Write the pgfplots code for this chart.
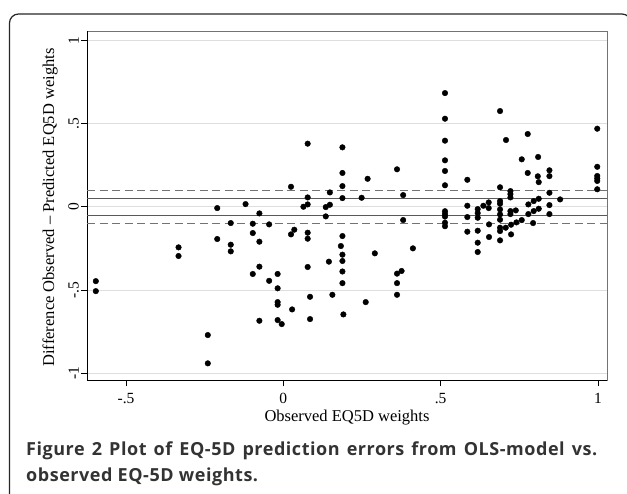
\documentclass[border=0pt]{standalone}
\usepackage{fontspec}
\setmainfont{Liberation Serif}
\newfontfamily\capfont{Open Sans}[LetterSpace=3]
\usepackage{pgfplots}
\pgfplotsset{compat=1.18}
\definecolor{capgray}{HTML}{333333}

\pgfplotstableread{
x y
-0.596 -0.447
-0.596 -0.507
-0.333 -0.244
-0.333 -0.296
-0.240 -0.771
-0.240 -0.941
0.0775 0.379
0.0245 0.120
0.148 0.086
0.0775 0.056
0.064 0.000
0.0775 0.014
0.135 -0.002
0.148 0.012
0.135 -0.058
-0.210 -0.008
-0.120 0.016
-0.076 -0.040
-0.167 -0.098
-0.097 -0.102
-0.045 -0.106
-0.210 -0.194
-0.167 -0.228
-0.167 -0.268
-0.097 -0.158
-0.076 -0.210
0.0245 -0.166
0.035 -0.138
0.0775 -0.156
0.0775 -0.192
0.0775 -0.362
0.145 -0.330
-0.076 -0.360
-0.097 -0.404
-0.045 -0.445
-0.018 -0.404
-0.018 -0.490
-0.018 -0.573
-0.018 -0.589
0.085 -0.541
0.156 -0.529
0.028 -0.617
-0.076 -0.685
-0.018 -0.681
-0.005 -0.705
0.085 -0.675
0.188 0.357
0.188 0.203
0.188 0.124
0.188 0.052
0.249 0.054
0.268 0.168
0.3615 0.225
0.381 0.070
0.381 -0.080
0.514 0.683
0.514 0.529
0.514 0.397
0.514 0.279
0.514 0.215
0.514 0.129
0.514 -0.027
0.514 -0.043
0.514 -0.059
0.514 -0.096
0.514 -0.117
0.188 -0.176
0.183 -0.236
0.188 -0.288
0.188 -0.326
0.188 -0.389
0.188 -0.459
0.291 -0.280
0.412 -0.250
0.3615 -0.402
0.376 -0.386
0.3615 -0.459
0.3615 -0.529
0.262 -0.573
0.191 -0.647
0.689 0.575
0.708 0.401
0.777 0.437
0.998 0.469
0.758 0.285
0.810 0.299
0.777 0.203
0.809 0.183
0.812 0.148
0.846 0.219
0.846 0.184
0.998 0.240
0.998 0.185
0.998 0.170
0.998 0.155
0.998 0.105
0.585 0.162
0.689 0.117
0.722 0.094
0.722 0.076
0.722 0.056
0.846 0.084
0.880 0.044
0.812 0.048
0.796 0.034
0.779 0.014
0.846 0.010
0.585 0.006
0.618 -0.014
0.618 -0.038
0.618 -0.066
0.636 0.006
0.653 0.026
0.653 -0.008
0.689 0.034
0.689 0.018
0.689 -0.016
0.689 -0.046
0.689 -0.078
0.722 -0.026
0.722 -0.044
0.739 -0.022
0.812 -0.012
0.796 -0.026
0.779 -0.044
0.846 -0.044
0.585 -0.062
0.758 -0.080
0.741 -0.094
0.724 -0.108
0.707 -0.126
0.689 -0.126
0.689 -0.146
0.794 -0.098
0.654 -0.106
0.618 -0.144
0.585 -0.150
0.618 -0.216
0.618 -0.272
0.654 -0.182
0.689 -0.202
0.724 -0.166
}\errors

\begin{document}
\begin{tikzpicture}
\useasboundingbox (0,0) rectangle (627pt,-494pt);
% outer figure frame
\draw[black!85, line width=1.2pt, rounded corners=9pt]
  (9.5pt,-520pt) -- (9.5pt,-14pt) -- (631pt,-14pt) -- (631pt,-520pt);

\begin{axis}[
  at={(87pt,-380pt)}, anchor=south west,
  scale only axis, width=520pt, height=349pt,
  xmin=-0.624, xmax=1.029, ymin=-1.041, ymax=1.056,
  xtick={-0.5,0,0.5,1}, xticklabels={-.5,0,.5,1},
  ytick={-1,-0.5,0,0.5,1}, yticklabels={-1,-.5,0,.5,1},
  xtick pos=bottom, ytick pos=left,
  tick align=outside, major tick length=6pt,
  tick style={black, line width=0.6pt},
  ymajorgrids, grid style={black!13, line width=0.7pt},
  axis line style={black!55, line width=0.8pt},
  ticklabel style={font=\fontsize{15.5}{18}\selectfont},
  xticklabel style={anchor=base, yshift=-17pt},
  yticklabel style={rotate=90, anchor=south, inner sep=2pt},
  clip=false,
]
\draw[black, line width=0.9pt] (rel axis cs:0,1) -- (rel axis cs:0,0) -- (rel axis cs:1,0);
\addplot[no marks, black!65, line width=0.8pt] coordinates {(-0.624,0.05) (1.029,0.05)};
\addplot[no marks, black!65, line width=0.8pt] coordinates {(-0.624,-0.05) (1.029,-0.05)};
\addplot[no marks, black!55, line width=0.9pt, dash pattern=on 8pt off 4.5pt] coordinates {(-0.624,0.1) (1.029,0.1)};
\addplot[no marks, black!55, line width=0.9pt, dash pattern=on 8pt off 4.5pt] coordinates {(-0.624,-0.1) (1.029,-0.1)};
\addplot[only marks, mark=*, mark size=2.8pt, black] table {\errors};
\end{axis}

\node[rotate=90, anchor=base, inner sep=0] at (54pt,-207.5pt)
  {\fontsize{16.5}{20}\selectfont Difference Observed -- Predicted EQ5D weights};
\node[anchor=base, inner sep=0] at (347pt,-422pt)
  {\fontsize{16.5}{20}\selectfont Observed EQ5D weights};

\node[anchor=base west, inner sep=0, text=capgray] at (26pt,-456pt)
  {\fontsize{18}{22}\capfont\bfseries\makebox[571pt][s]{Figure 2 Plot of EQ-5D prediction errors from OLS-model vs.}};
\node[anchor=base west, inner sep=0, text=capgray] at (26pt,-482pt)
  {\fontsize{18}{22}\capfont\bfseries observed EQ-5D weights.};
\end{tikzpicture}
\end{document}
